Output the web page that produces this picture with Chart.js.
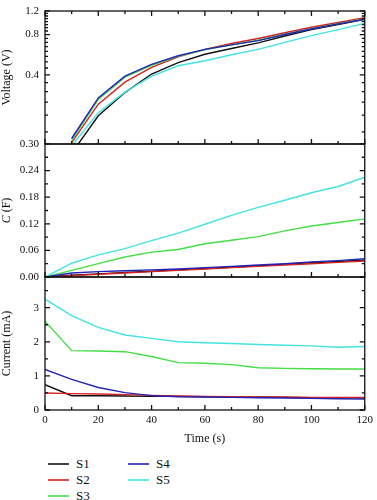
<!DOCTYPE html>
<html>
<head>
<meta charset="utf-8">
<script src="https://cdn.jsdelivr.net/npm/chart.js@4.4.1/dist/chart.umd.min.js"></script>
<style>
  body { margin: 0; background: #fff; }
  #wrap { position: relative; width: 377px; height: 500px; }
  #chart { position: absolute; left: 0; top: 0; }
  .lg-line { position: absolute; height: 2px; width: 21px; }
  .lg-text { position: absolute; font: 13px 'Liberation Serif', 'DejaVu Serif', serif; color: #111; line-height: 16px; }
</style>
</head>
<body>
<div id="wrap">
  <canvas id="chart" width="377" height="450"></canvas>
  <div id="legend"></div>
</div>
<script>
// time axis (s)
var time = [0, 10, 20, 30, 40, 50, 60, 70, 80, 90, 100, 110, 120];
var xTicks = [0, 20, 40, 60, 80, 100, 120];
var xMinor = [10, 30, 50, 70, 90, 110];

var seriesNames = ['S1', 'S2', 'S3', 'S4', 'S5'];
var seriesColors = ['#111111', '#d42222', '#44dd44', '#2323b8', '#44e2e2'];

// voltage (V), log axis
var voltageS1 = [null, 0.104, 0.198, 0.295, 0.406, 0.494, 0.57, 0.63, 0.693, 0.78, 0.87, 0.95, 1.04];
var voltageS2 = [null, 0.125, 0.242, 0.353, 0.455, 0.545, 0.62, 0.686, 0.747, 0.825, 0.906, 0.985, 1.07];
var voltageS3 = [null, 0.13, 0.262, 0.385, 0.472, 0.55, 0.615, 0.67, 0.725, 0.805, 0.885, 0.965, 1.045];
var voltageS4 = [null, 0.134, 0.269, 0.391, 0.479, 0.556, 0.62, 0.67, 0.72, 0.80, 0.88, 0.96, 1.04];
var voltageS5 = [null, 0.118, 0.209, 0.297, 0.391, 0.468, 0.51, 0.565, 0.62, 0.70, 0.786, 0.87, 0.97];
var voltageTicks = [0.4, 0.8, 1.2];
var voltageMinor = [0.15, 0.2, 0.25, 0.3, 0.35, 0.45, 0.5, 0.55, 0.6, 0.65, 0.7, 0.75, 0.85, 0.9, 0.95, 1.0, 1.05, 1.1, 1.15];

// capacitance (F)
var capS1 = [0, 0.004, 0.007, 0.010, 0.013, 0.016, 0.019, 0.022, 0.025, 0.029, 0.032, 0.035, 0.038];
var capS2 = [0, 0.003, 0.006, 0.009, 0.012, 0.015, 0.018, 0.021, 0.024, 0.027, 0.030, 0.033, 0.036];
var capS3 = [0, 0.015, 0.030, 0.045, 0.056, 0.062, 0.075, 0.083, 0.091, 0.104, 0.115, 0.123, 0.131];
var capS4 = [0, 0.009, 0.012, 0.014, 0.016, 0.018, 0.021, 0.024, 0.027, 0.030, 0.034, 0.037, 0.041];
var capS5 = [0, 0.031, 0.050, 0.064, 0.082, 0.099, 0.119, 0.139, 0.157, 0.173, 0.190, 0.204, 0.225];
var capTicks = [0, 0.06, 0.12, 0.18, 0.24, 0.30];
var capMinor = [0.03, 0.09, 0.15, 0.21, 0.27];

// current (mA)
var currentS1 = [0.74, 0.42, 0.42, 0.41, 0.40, 0.40, 0.39, 0.38, 0.38, 0.37, 0.36, 0.36, 0.35];
var currentS2 = [0.50, 0.48, 0.47, 0.45, 0.43, 0.41, 0.40, 0.39, 0.38, 0.38, 0.37, 0.37, 0.37];
var currentS3 = [2.60, 1.74, 1.73, 1.71, 1.57, 1.39, 1.37, 1.33, 1.24, 1.22, 1.21, 1.20, 1.20];
var currentS4 = [1.19, 0.90, 0.66, 0.51, 0.42, 0.39, 0.38, 0.37, 0.36, 0.35, 0.34, 0.33, 0.32];
var currentS5 = [3.25, 2.77, 2.42, 2.20, 2.10, 2.00, 1.97, 1.95, 1.92, 1.90, 1.88, 1.84, 1.86];
var currentTicks = [0, 1, 2, 3];
var currentMinor = [0.5, 1.5, 2.5, 3.5];

var voltage = [voltageS1, voltageS2, voltageS3, voltageS4, voltageS5];
var cap = [capS1, capS2, capS3, capS4, capS5];
var current = [currentS1, currentS2, currentS3, currentS4, currentS5];

var serif = "'Liberation Serif', 'DejaVu Serif', serif";
Chart.defaults.font.family = serif;
Chart.defaults.color = '#111';

var panels = [
  {id: 'yV', major: voltageTicks, minor: voltageMinor},
  {id: 'yC', major: capTicks, minor: capMinor},
  {id: 'yI', major: currentTicks, minor: currentMinor}
];

function toPoints(arr) {
  return time.map(function(t, k) { return {x: t, y: arr[k]}; });
}

var datasets = [];
[['yV', voltage], ['yC', cap], ['yI', current]].forEach(function(group) {
  group[1].forEach(function(arr, i) {
    datasets.push({
      label: seriesNames[i],
      data: toPoints(arr),
      yAxisID: group[0],
      borderColor: seriesColors[i],
      backgroundColor: seriesColors[i],
      borderWidth: 1.4,
      pointRadius: 0,
      tension: 0,
      fill: false,
      order: 5 - i
    });
  });
});

function fixedWidth(scale) { scale.width = 45; }

function yScale(weight, extra) {
  var base = {
    position: 'left',
    stack: 'panels',
    stackWeight: 1,
    weight: weight,
    grid: {display: false, drawTicks: false},
    border: {display: false},
    ticks: {font: {size: 11, lineHeight: 0.9}, padding: 6, autoSkip: false},
    afterFit: fixedWidth
  };
  return Object.assign(base, extra);
}

// clip each line to its own panel
var panelClip = {
  id: 'panelClip',
  beforeDatasetDraw: function(chart, args) {
    var s = chart.scales[args.meta.yAxisID];
    var a = chart.chartArea;
    chart.ctx.save();
    chart.ctx.beginPath();
    chart.ctx.rect(a.left, s.top, a.right - a.left, s.bottom - s.top);
    chart.ctx.clip();
  },
  afterDatasetDraw: function(chart) {
    chart.ctx.restore();
  }
};

// frames, inward ticks, italic C title
var frames = {
  id: 'frames',
  afterDatasetsDraw: function(chart) {
    var ctx = chart.ctx, a = chart.chartArea, xs = chart.scales.x;
    ctx.save();
    ctx.strokeStyle = '#111';
    ctx.lineWidth = 1.3;
    panels.forEach(function(p, k) {
      var s = chart.scales[p.id];
      var top = Math.round(s.top), bottom = Math.round(s.bottom);
      ctx.strokeRect(a.left, top, a.right - a.left, bottom - top);
      ctx.beginPath();
      function yTick(v, len) {
        var y = s.getPixelForValue(v);
        ctx.moveTo(a.left, y); ctx.lineTo(a.left + len, y);
        ctx.moveTo(a.right, y); ctx.lineTo(a.right - len, y);
      }
      function xTick(v, len) {
        var x = xs.getPixelForValue(v);
        ctx.moveTo(x, bottom); ctx.lineTo(x, bottom - len);
        if (k === 0) { ctx.moveTo(x, top); ctx.lineTo(x, top + len); }
      }
      p.major.forEach(function(v) { yTick(v, 5); });
      p.minor.forEach(function(v) { yTick(v, 3); });
      xTicks.forEach(function(v) { xTick(v, 5); });
      xMinor.forEach(function(v) { xTick(v, 3); });
      ctx.stroke();
    });

    var sc = chart.scales.yC;
    var cy = (sc.top + sc.bottom) / 2;
    ctx.translate(sc.left + 7.2, cy);
    ctx.rotate(-Math.PI / 2);
    ctx.fillStyle = '#111';
    ctx.textBaseline = 'middle';
    var fItal = 'italic 12px ' + serif, fNorm = '12px ' + serif;
    ctx.font = fItal; var w1 = ctx.measureText('C').width;
    ctx.font = fNorm; var w2 = ctx.measureText(' (F)').width;
    var x0 = -(w1 + w2) / 2;
    ctx.font = fItal; ctx.fillText('C', x0, 0);
    ctx.font = fNorm; ctx.fillText(' (F)', x0 + w1, 0);
    ctx.restore();
  }
};

new Chart(document.getElementById('chart'), {
  type: 'line',
  data: {datasets: datasets},
  options: {
    responsive: false,
    animation: false,
    layout: {padding: {top: 5, right: 9, left: 0, bottom: 0}},
    plugins: {legend: {display: false}, tooltip: {enabled: false}},
    scales: {
      x: {
        type: 'linear', min: 0, max: 120,
        grid: {display: false, drawTicks: false},
        border: {display: false},
        ticks: {stepSize: 20, font: {size: 11}, padding: 4, maxRotation: 0},
        title: {display: true, text: 'Time (s)', font: {size: 12}, padding: {top: 0, bottom: 4}},
        afterBuildTicks: function(s) { s.ticks = xTicks.map(function(v) { return {value: v}; }); },
        afterFit: function(s) { s.height = 40; }
      },
      yV: yScale(3, {
        type: 'logarithmic', min: 0.122, max: 1.2,
        title: {display: true, text: 'Voltage (V)', font: {size: 12}, padding: 0},
        afterBuildTicks: function(s) { s.ticks = voltageTicks.map(function(v) { return {value: v}; }); },
        ticks: {font: {size: 11, lineHeight: 0.9}, padding: 6, autoSkip: false,
          callback: function(v) { return Number(v).toFixed(1); }}
      }),
      yC: yScale(2, {
        type: 'linear', min: 0, max: 0.30,
        title: {display: false},
        afterBuildTicks: function(s) { s.ticks = capTicks.map(function(v) { return {value: v}; }); },
        ticks: {font: {size: 11, lineHeight: 0.9}, padding: 6, autoSkip: false,
          callback: function(v) { return Number(v).toFixed(2); }}
      }),
      yI: yScale(1, {
        type: 'linear', min: 0, max: 3.9,
        title: {display: true, text: 'Current (mA)', font: {size: 12}, padding: 0},
        afterBuildTicks: function(s) { s.ticks = currentTicks.map(function(v) { return {value: v}; }); },
        ticks: {font: {size: 11, lineHeight: 0.9}, padding: 6, autoSkip: false,
          callback: function(v) { return String(v); }}
      })
    }
  },
  plugins: [panelClip, frames]
});

// legend: three rows, filled column by column
var legend = document.getElementById('legend');
seriesNames.forEach(function(name, i) {
  var col = Math.floor(i / 3), row = i % 3;
  var cx = 48 + col * 80, cy = 463.5 + row * 16;
  var line = document.createElement('div');
  line.className = 'lg-line';
  line.style.left = cx + 'px';
  line.style.top = (cy - 1) + 'px';
  line.style.background = seriesColors[i];
  line.style.opacity = 0.8;
  var txt = document.createElement('div');
  txt.className = 'lg-text';
  txt.style.left = (cx + 28) + 'px';
  txt.style.top = (cy - 8) + 'px';
  txt.textContent = name;
  legend.appendChild(line);
  legend.appendChild(txt);
});
</script>
</body>
</html>
